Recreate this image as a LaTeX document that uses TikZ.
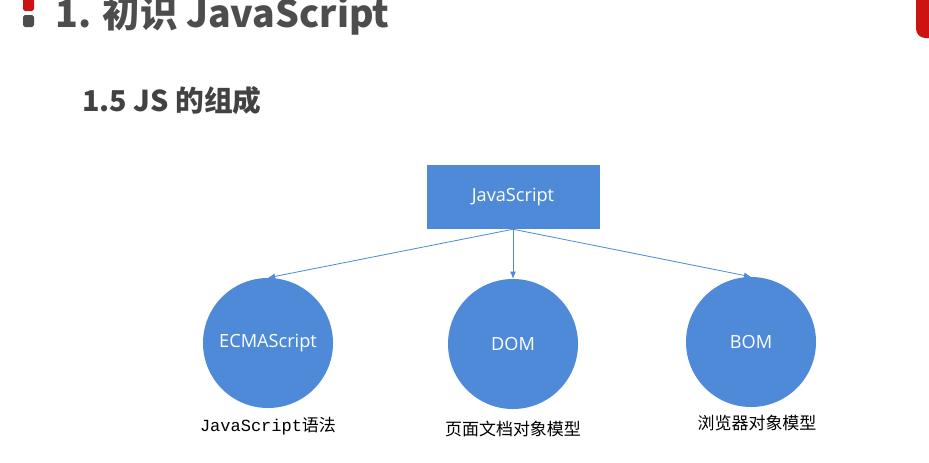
\documentclass[tikz,border=0pt]{standalone}
\usepackage{fontspec}
\setmainfont{Noto Sans CJK SC}
\newfontfamily\monofont{Liberation Mono}
\newfontfamily\latinfont{Open Sans}
\usetikzlibrary{positioning,arrows.meta}

\definecolor{jsblue}{RGB}{79,138,217}
\definecolor{titlegray}{RGB}{77,77,77}
\definecolor{slidered}{RGB}{204,18,18}

\begin{document}
\begin{tikzpicture}[x=0.03cm, y=-0.03cm,
    part/.style={circle, fill=jsblue, minimum size=3.9cm, inner sep=0pt,
                 text=white, font=\latinfont\fontsize{15.5}{18}\selectfont},
    rootbox/.style={rectangle, fill=jsblue, minimum width=5.19cm, minimum height=1.92cm,
                 text=white, font=\latinfont\fontsize{15.5}{18}\selectfont},
    caption/.style={font=\fontsize{14.5}{17}\selectfont, text=black, inner sep=1pt},
    link/.style={draw=jsblue, line width=0.7pt, -{Latex[length=6pt, width=5pt]}}]

    % Page frame
    \clip (0, 0) rectangle (929, 462);
    \fill[white] (0, 0) rectangle (929, 462);

    % Slide decorations
    \fill[slidered, rounded corners=1.5pt] (23, -4) rectangle (34, 11);
    \fill[titlegray, rounded corners=1.5pt] (23, 15) rectangle (34, 27);
    \fill[slidered, rounded corners=8pt] (916, -20) rectangle (950, 38);

    % Headings
    \node[anchor=base west, inner sep=0pt, text=titlegray,
          font=\bfseries\fontsize{32}{35}\selectfont] (title) at (55, 27) {1. 初识 JavaScript};
    \node[anchor=base west, inner sep=0pt, text=titlegray!85!black,
          font=\bfseries\fontsize{24.5}{27}\selectfont] (subtitle) at (82, 111) {1.5 JS 的组成};

    % Root and parts
    \node[rootbox] (js) at (513, 197) {JavaScript};
    \node[part] (ecma) at (268, 343) {ECMAScript};
    \node[part] (dom) at (513, 344) {DOM};
    \node[part] (bom) at (751, 342) {BOM};

    % Captions
    \node[caption, below=0.22cm of ecma] (ecmacap) {{\monofont JavaScript}语法};
    \node[caption, below=0.3cm of dom] (domcap) {页面文档对象模型};
    \node[caption, below=0.2cm of bom, xshift=0.18cm] (bomcap) {浏览器对象模型};

    % Connectors
    \draw[link] (js.south) -- (ecma.north);
    \draw[link] (js.south) -- (dom.north);
    \draw[link] (js.south) -- (bom.north);

\end{tikzpicture}
\end{document}
